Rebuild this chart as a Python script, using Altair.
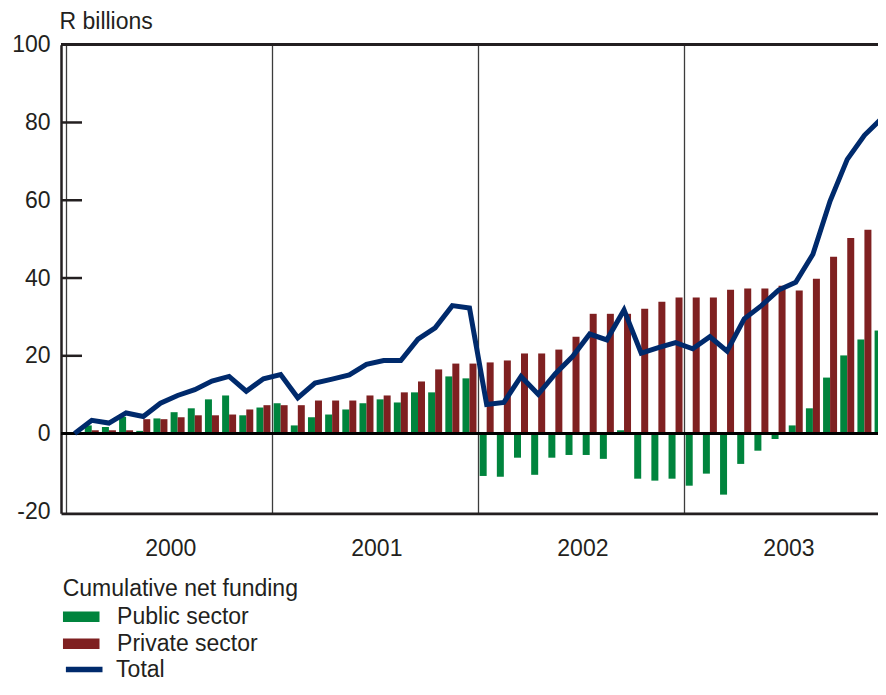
import altair as alt
import pandas as pd

YEARS = ["2000", "2001", "2002", "2003"]
MONTHS = [f"{y}-{m:02d}" for y in YEARS for m in range(1, 13)]
SERIES = ["Public sector", "Private sector", "Total"]
LEGEND_TITLE = "Cumulative net funding"
Y_TITLE = "R billions"

PUBLIC = [0, 2.1, 1.7, 4.3, 0.7, 3.9, 5.5, 6.5, 8.8, 9.8, 4.7, 6.7,
          7.8, 2.1, 4.2, 4.9, 6.2, 7.8, 8.8, 8.0, 10.6, 10.6, 14.7, 14.2,
          -10.9, -11.1, -6.2, -10.6, -6.2, -5.5, -5.5, -6.5, 0.85, -11.6, -12.1, -11.6,
          -13.4, -10.3, -15.7, -7.8, -4.4, -1.4, 2.1, 6.5, 14.4, 20.1, 24.2, 26.5]
PRIVATE = [0, 0.85, 0.85, 0.85, 3.7, 3.7, 4.2, 4.7, 4.7, 4.9, 6.2, 7.3,
           7.3, 7.3, 8.5, 8.5, 8.5, 9.8, 9.8, 10.6, 13.4, 16.5, 18.0, 18.0,
           18.3, 18.8, 20.6, 20.6, 21.6, 24.9, 30.8, 30.8, 30.8, 32.1, 33.9, 35.0,
           35.0, 35.0, 37.0, 37.3, 37.3, 38.0, 36.8, 39.8, 45.5, 50.3, 52.4, 54.5]
TOTAL = [0, 3.4, 2.7, 5.3, 4.4, 7.8, 9.8, 11.3, 13.5, 14.7, 10.9, 14.1,
         15.2, 9.2, 13.0, 14.0, 15.1, 17.8, 18.8, 18.8, 24.3, 27.2, 32.9, 32.3,
         7.5, 8.0, 14.7, 10.1, 15.4, 19.8, 25.6, 24.1, 31.8, 20.7, 22.1, 23.4,
         21.8, 24.9, 21.2, 29.5, 32.9, 36.9, 38.9, 46.1, 59.8, 70.5, 76.7, 81.0]
Y_TICKS = [-20, 0, 20, 40, 60, 80, 100]
INNER_TICKS = [20, 40, 60, 80]

GREEN, RED, NAVY = "#00843d", "#7f2021", "#002a6c"
INK = "#231f20"
FONT = "Liberation Sans"
FS = 23

n = len(MONTHS)
bars = pd.DataFrame({"t": list(range(n)), "month": MONTHS,
                     SERIES[0]: PUBLIC, SERIES[1]: PRIVATE})
bars_long = bars.melt(id_vars=["t", "month"], value_vars=SERIES[:2],
                      var_name="series", value_name="value")
line_df = pd.DataFrame({"t": list(range(n)), "month": MONTHS,
                        "series": SERIES[2], "value": TOTAL})
ticks_df = pd.DataFrame({"tick": INNER_TICKS})

year_arr = "[" + ",".join(f"'{y}'" for y in YEARS) + "]"
x_scale = alt.Scale(domain=[-0.5, n - 1.5], nice=False, zero=False)
y_scale = alt.Scale(domain=[-20.5, 100], nice=False, zero=False)

W = 817
H = 468.6
step = W / (n - 1)

x_axis = alt.Axis(values=[12 * k - 0.5 for k in range(len(YEARS))],
                  grid=True, gridColor="#3c3c3c", gridWidth=1.3,
                  ticks=False, domain=True, domainColor=INK, domainWidth=2.7,
                  labelExpr=f"{year_arr}[round((datum.value + 0.5) / 12)]",
                  labelOffset=6 * step, labelPadding=35, labelBaseline="middle",
                  labelFontSize=FS, labelColor=INK, labelFont=FONT,
                  labelOverlap=False, labelBound=False, labelFlush=False, title=None)
y_axis = alt.Axis(values=Y_TICKS, ticks=False, tickSize=0, domain=True,
                  domainColor=INK, domainWidth=2.5, grid=False,
                  labelExpr="'' + datum.value",
                  labelPadding=11, labelFontSize=FS, labelColor=INK, labelFont=FONT,
                  title=Y_TITLE, titleAngle=0, titleAlign="left",
                  titleBaseline="alphabetic", titleX=-2, titleY=-16.4,
                  titleFontSize=FS, titleFontWeight="normal", titleColor=INK,
                  titleFont=FONT)

fill_legend = alt.Legend(title=LEGEND_TITLE, orient="none", legendX=1.7, legendY=533.4,
                         direction="vertical", symbolType="M-1,-0.29H1V0.29H-1Z",
                         symbolSize=1340, symbolStrokeWidth=0, labelFontSize=FS,
                         labelFont=FONT, labelColor=INK, titleFontSize=FS,
                         titleFontWeight="normal", titleFont=FONT, titleColor=INK,
                         titleLimit=500, labelLimit=400,
                         labelOffset=17.4, clipHeight=25.5, rowPadding=1,
                         titlePadding=2.95, padding=0)
stroke_legend = alt.Legend(title=None, orient="none", legendX=1.7, legendY=612.05,
                           direction="vertical", symbolType="stroke", symbolSize=1340,
                           symbolStrokeWidth=5.5, labelFontSize=FS, labelFont=FONT,
                           labelColor=INK, labelOffset=10.4, clipHeight=25.5, padding=0,
                           labelLimit=400)

fill_enc = alt.Fill("series:N", scale=alt.Scale(domain=SERIES[:2], range=[GREEN, RED]),
                    legend=fill_legend)

X = alt.X("t:Q", scale=x_scale, axis=x_axis)
Y = alt.Y("value:Q", scale=y_scale, axis=y_axis)

green_bars = alt.Chart(bars_long).transform_filter(
    alt.datum.series == SERIES[0]
).mark_bar(size=7, xOffset=-3.5, strokeWidth=0, clip=True).encode(x=X, y=Y, fill=fill_enc)

red_bars = alt.Chart(bars_long).transform_filter(
    alt.datum.series == SERIES[1]
).mark_bar(size=7, xOffset=3.5, strokeWidth=0, clip=True).encode(x=X, y=Y, fill=fill_enc)

zero_rule = alt.Chart(line_df).mark_rule(color="#000000", strokeWidth=2.5).encode(
    y=alt.Y(datum=0, scale=y_scale, axis=y_axis))
top_rule = alt.Chart(line_df).mark_rule(color=INK, strokeWidth=2.4).encode(
    y=alt.Y(datum=Y_TICKS[-1], scale=y_scale, axis=y_axis))

inner_ticks = alt.Chart(ticks_df).mark_rule(color=INK, strokeWidth=2.5).encode(
    y=alt.Y("tick:Q", scale=y_scale, axis=y_axis),
    x=alt.value(0), x2=alt.value(21))

total_line = alt.Chart(line_df).mark_line(strokeWidth=5, strokeJoin="miter", clip=True).encode(
    x=X, y=Y,
    stroke=alt.Stroke("series:N", scale=alt.Scale(domain=SERIES[2:], range=[NAVY]),
                      legend=stroke_legend))

chart = alt.layer(green_bars, red_bars, zero_rule, top_rule, inner_ticks, total_line).properties(
    width=W, height=H,
    autosize=alt.AutoSizeParams(type="none"),
    padding={"left": 53, "top": 36.7, "right": 0, "bottom": 168.7},
).configure(font=FONT).configure_view(stroke=None)

chart.save("out.html", embed_options={"renderer": "svg", "actions": False})
